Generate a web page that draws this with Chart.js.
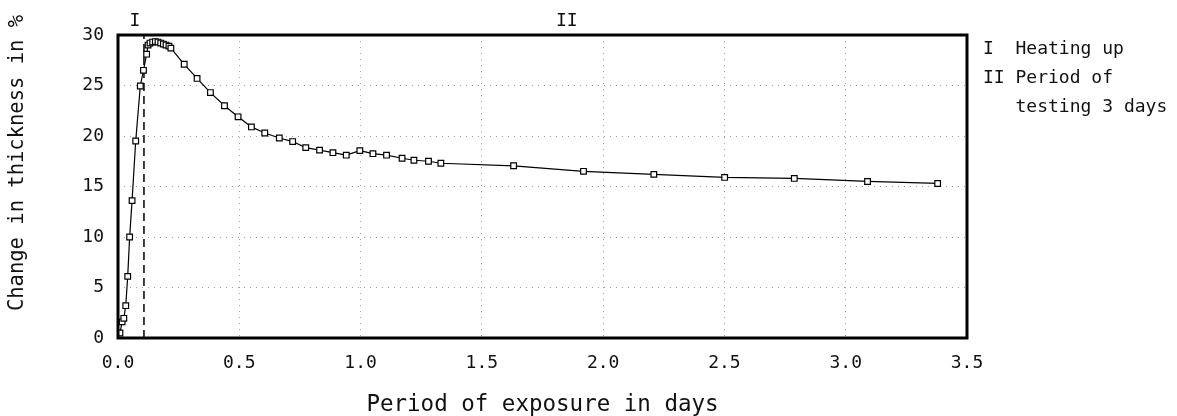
<!DOCTYPE html>
<html>
<head>
<meta charset="utf-8">
<script src="https://cdn.jsdelivr.net/npm/chart.js@4.4.1/dist/chart.umd.min.js"></script>
<style>
html,body{margin:0;padding:0;background:#fff;}
#wrap{width:1177px;height:416px;}
</style>
</head>
<body>
<div id="wrap"><canvas id="c" width="1177" height="416"></canvas></div>
<script>
// ---- data ----
const days = [0.008,0.017,0.024,0.032,0.040,0.048,0.058,0.073,0.092,0.105,0.118,
  0.124,0.132,0.143,0.154,0.165,0.176,0.187,0.198,0.210,0.218,
  0.273,0.326,0.381,0.439,0.495,0.550,0.605,0.665,0.720,0.774,0.831,0.886,0.941,0.997,
  1.051,1.107,1.171,1.220,1.280,1.331,1.631,1.919,2.209,2.501,2.788,3.090,3.379];
const thickness = [0.5,1.6,1.95,3.2,6.1,10.0,13.6,19.5,24.95,26.5,28.1,
  29.0,29.2,29.3,29.35,29.3,29.2,29.1,29.0,28.9,28.7,
  27.1,25.7,24.3,23.0,21.9,20.9,20.3,19.8,19.45,18.85,18.6,18.35,18.1,18.55,
  18.25,18.1,17.8,17.6,17.5,17.3,17.05,16.5,16.2,15.9,15.8,15.5,15.3];
const phaseBoundaryX = [0.107, 0.107];
const phaseBoundaryY = [0, 30];
const phaseLabels = ['I', 'II'];
const phaseLabelX = [0.07, 1.85];
const legendLines = ['I  Heating up', 'II Period of', '   testing 3 days'];
const xTicks = [0, 0.5, 1.0, 1.5, 2.0, 2.5, 3.0, 3.5];
const yTicks = [0, 5, 10, 15, 20, 25, 30];
const xTitle = 'Period of exposure in days';
const yTitle = 'Change in thickness in %';

const MONO = '"DejaVu Sans Mono", "Liberation Mono", monospace';

const points = days.map((d, i) => ({x: d, y: thickness[i]}));
const boundary = phaseBoundaryX.map((d, i) => ({x: d, y: phaseBoundaryY[i]}));

const framePlugin = {
  id: 'frame',
  afterDatasetsDraw(chart) {
    const {ctx, chartArea: a, scales} = chart;
    ctx.save();
    ctx.strokeStyle = '#000';
    ctx.lineWidth = 3;
    ctx.strokeRect(a.left, a.top, a.right - a.left, a.bottom - a.top);
    ctx.fillStyle = '#111';
    ctx.font = '18px ' + MONO;
    ctx.textAlign = 'center';
    ctx.textBaseline = 'middle';
    phaseLabels.forEach((t, i) => {
      ctx.fillText(t, scales.x.getPixelForValue(phaseLabelX[i]), a.top - 14);
    });
    ctx.textAlign = 'left';
    legendLines.forEach((t, i) => {
      ctx.fillText(t, a.right + 16, a.top + 14 + i * 29);
    });
    // y axis title
    ctx.save();
    ctx.translate(18, 163);
    ctx.rotate(-Math.PI / 2);
    ctx.textAlign = 'center';
    ctx.font = '20.5px ' + MONO;
    ctx.fillText(yTitle, 0, 0);
    ctx.restore();
    ctx.restore();
  }
};

new Chart(document.getElementById('c'), {
  type: 'scatter',
  data: {
    datasets: [
      {
        data: points,
        showLine: true,
        borderColor: '#000',
        borderWidth: 1.2,
        pointStyle: 'rect',
        pointRadius: 4,
        pointBackgroundColor: '#fff',
        pointBorderColor: '#000',
        pointBorderWidth: 1.2,
        tension: 0
      },
      {
        data: boundary,
        showLine: true,
        borderColor: '#000',
        borderWidth: 1.5,
        borderDash: [8, 5],
        pointRadius: 0
      }
    ]
  },
  options: {
    responsive: false,
    animation: false,
    events: [],
    layout: {padding: {left: 0, right: 210, top: 35, bottom: 0}},
    plugins: {legend: {display: false}, tooltip: {enabled: false}},
    scales: {
      x: {
        type: 'linear',
        min: 0, max: 3.5,
        afterBuildTicks(s) { s.ticks = xTicks.map(v => ({value: v})); },
        afterFit(s) { s.height = 416 - 338; },
        ticks: {
          color: '#111',
          font: {family: MONO, size: 18},
          padding: 15,
          maxRotation: 0,
          callback: v => v.toFixed(1)
        },
        grid: {color: '#a0a0a0', lineWidth: 1, drawTicks: false},
        border: {display: false, dash: [1, 5]},
        title: {
          display: true, text: xTitle, color: '#111',
          font: {family: MONO, size: 22.5, lineHeight: 1.0},
          padding: {top: 0, bottom: 0}
        }
      },
      y: {
        type: 'linear',
        min: 0, max: 30,
        afterBuildTicks(s) { s.ticks = yTicks.map(v => ({value: v})); },
        afterFit(s) { s.width = 118; },
        ticks: {
          color: '#111',
          font: {family: MONO, size: 18},
          padding: 14
        },
        grid: {color: '#a0a0a0', lineWidth: 1, drawTicks: false},
        border: {display: false, dash: [1, 5]},
        title: {display: false}
      }
    }
  },
  plugins: [framePlugin]
});
</script>
</body>
</html>
